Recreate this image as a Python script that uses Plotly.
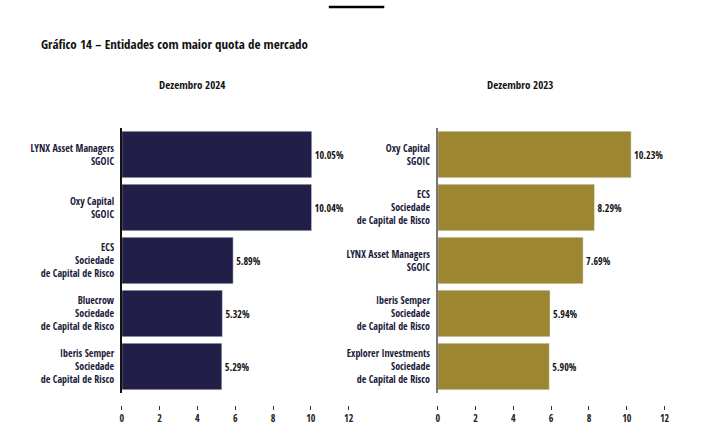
import plotly.graph_objects as go

cats_2024 = ["LYNX Asset Managers<br>SGOIC", "Oxy Capital<br>SGOIC", "ECS<br>Sociedade<br>de Capital de Risco",
             "Bluecrow<br>Sociedade<br>de Capital de Risco", "Iberis Semper<br>Sociedade<br>de Capital de Risco"]
vals_2024 = [10.05, 10.04, 5.89, 5.32, 5.29]
cats_2023 = ["Oxy Capital<br>SGOIC", "ECS<br>Sociedade<br>de Capital de Risco", "LYNX Asset Managers<br>SGOIC",
             "Iberis Semper<br>Sociedade<br>de Capital de Risco", "Explorer Investments<br>Sociedade<br>de Capital de Risco"]
vals_2023 = [10.23, 8.29, 7.69, 5.94, 5.90]
x_ticks = [0, 2, 4, 6, 8, 10, 12]

FONT = "Open Sans Condensed, DejaVu Sans, sans-serif"
W, H = 727, 438
NAVY = "#211F47"
GOLD = "#9C8632"


def px(x):
    return x / W


def py(y):
    return 1 - y / H


fig = go.Figure()
fig.add_trace(go.Bar(y=cats_2024, x=vals_2024, orientation="h", marker_color=NAVY,
                     text=[f"{v:.2f}%" for v in vals_2024], textposition="outside",
                     textfont=dict(size=10, color="#111111", family=FONT), cliponaxis=False,
                     xaxis="x", yaxis="y"))
fig.add_trace(go.Bar(y=cats_2023, x=vals_2023, orientation="h", marker_color=GOLD,
                     text=[f"{v:.2f}%" for v in vals_2023], textposition="outside",
                     textfont=dict(size=10, color="#111111", family=FONT), cliponaxis=False,
                     xaxis="x2", yaxis="y2"))

ydom = [py(393), py(128)]
common_x = dict(range=[0, 12], tickvals=x_ticks, showgrid=False, zeroline=False, showline=False,
                ticks="outside", ticklen=4, tickcolor="#333", anchor="free", position=py(405),
                tickfont=dict(size=10, color="#222", family=FONT))
common_y = dict(autorange="reversed", showgrid=False, zeroline=False, showline=True, linewidth=1.5,
                ticks="", tickfont=dict(size=10, color="#1a1a3a", family=FONT), domain=ydom,
                ticklabelstandoff=4)

fig.update_layout(
    width=W, height=H, margin=dict(l=0, r=0, t=0, b=0),
    paper_bgcolor="white", plot_bgcolor="white", showlegend=False, bargap=0.12,
    font=dict(family=FONT),
    xaxis=dict(domain=[px(121), px(350)], **common_x),
    xaxis2=dict(domain=[px(440), px(669)], **common_x),
    yaxis=dict(anchor="x", linecolor="#111", **common_y),
    yaxis2=dict(anchor="x2", linecolor="#777", **common_y),
    shapes=[dict(type="line", xref="paper", yref="paper", x0=px(330), x1=px(386),
                 y0=py(7), y1=py(7), line=dict(color="black", width=2.5))],
    annotations=[
        dict(text="Gráfico 14 – Entidades com maior quota de mercado", xref="paper", yref="paper",
             x=px(37), y=py(44), xanchor="left", yanchor="middle", showarrow=False,
             font=dict(size=13, color="#111", family=FONT, weight=700)),
        dict(text="Dezembro 2024", xref="paper", yref="paper",
             x=px(192), y=py(85), xanchor="center", yanchor="middle", showarrow=False,
             font=dict(size=11, color="#111", family=FONT, weight=700)),
        dict(text="Dezembro 2023", xref="paper", yref="paper",
             x=px(523), y=py(85), xanchor="center", yanchor="middle", showarrow=False,
             font=dict(size=11, color="#111", family=FONT, weight=700)),
    ],
)

fig.write_html("out.html", config={"displayModeBar": False},
               post_script="document.body.style.margin='0';document.body.style.overflow='hidden';")
